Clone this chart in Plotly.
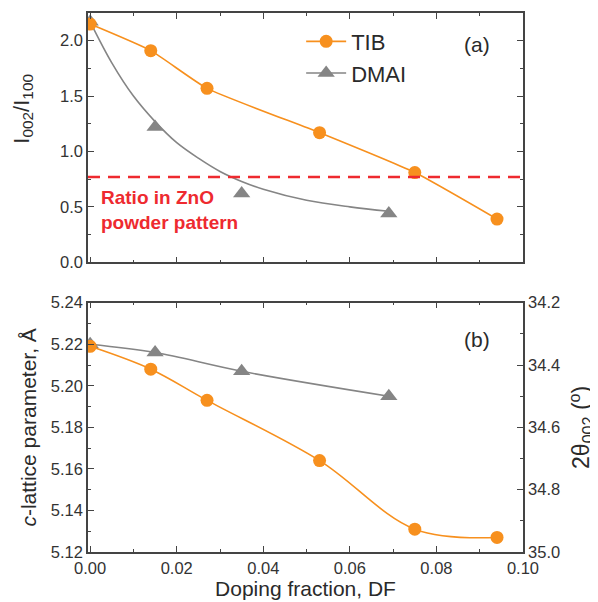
import plotly.graph_objects as go

# ---- data ----
tib_df = [0.0, 0.014, 0.027, 0.053, 0.075, 0.094]
tib_ratio = [2.15, 1.91, 1.57, 1.17, 0.81, 0.39]
tib_c = [5.219, 5.208, 5.193, 5.164, 5.131, 5.127]

dmai_df = [0.0, 0.015, 0.035, 0.069]
dmai_ratio = [2.17, 1.22, 0.62, 0.44]
dmai_c = [5.220, 5.216, 5.207, 5.195]

# fitted DMAI curve in panel (a)
dmai_fit_df = [0.0, 0.005, 0.01, 0.015, 0.02, 0.025, 0.03, 0.035, 0.04, 0.05, 0.06, 0.069]
dmai_fit_ratio = [2.17, 1.80, 1.50, 1.27, 1.08, 0.94, 0.82, 0.73, 0.66, 0.56, 0.50, 0.46]

powder_ratio = 0.77

ORANGE = "#F7901E"
GRAY = "#858585"
RED = "#EE2A2F"
AX = "#444444"
TXT = "#2a2a2a"
FONT = "Liberation Sans, Arial, sans-serif"

fig = go.Figure()

# panel (a)
fig.add_trace(go.Scatter(x=dmai_fit_df, y=dmai_fit_ratio, mode="lines",
                         line=dict(color=GRAY, width=1.6, shape="spline"),
                         showlegend=False, xaxis="x", yaxis="y"))
fig.add_trace(go.Scatter(x=dmai_df, y=dmai_ratio, mode="markers",
                         marker=dict(symbol="triangle-up", size=15, color=GRAY),
                         showlegend=False, xaxis="x", yaxis="y"))
fig.add_trace(go.Scatter(x=tib_df, y=tib_ratio, mode="lines+markers", name="TIB",
                         line=dict(color=ORANGE, width=1.6, shape="spline", smoothing=0.5),
                         marker=dict(symbol="circle", size=13, color=ORANGE),
                         xaxis="x", yaxis="y"))
fig.add_trace(go.Scatter(x=[None], y=[None], mode="lines+markers", name="DMAI",
                         line=dict(color=GRAY, width=1.6),
                         marker=dict(symbol="triangle-up", size=15, color=GRAY),
                         xaxis="x", yaxis="y"))

# panel (b)
fig.add_trace(go.Scatter(x=dmai_df, y=dmai_c, mode="lines+markers",
                         line=dict(color=GRAY, width=1.6, shape="spline"),
                         marker=dict(symbol="triangle-up", size=15, color=GRAY),
                         showlegend=False, xaxis="x2", yaxis="y2"))
fig.add_trace(go.Scatter(x=tib_df, y=tib_c, mode="lines+markers",
                         line=dict(color=ORANGE, width=1.6, shape="spline", smoothing=1.0),
                         marker=dict(symbol="circle", size=13, color=ORANGE),
                         showlegend=False, xaxis="x2", yaxis="y2"))
# invisible trace to activate the right axis
fig.add_trace(go.Scatter(x=[None], y=[None], showlegend=False, xaxis="x2", yaxis="y3"))

minor_common = dict(ticks="inside", ticklen=3, tickcolor=AX, showgrid=False)
axis_common = dict(showline=True, linecolor=AX, linewidth=1.5, ticks="inside",
                   ticklen=6, tickcolor=AX, tickwidth=1.2, showgrid=False, zeroline=False,
                   automargin=False,
                   tickfont=dict(size=16.5, color="#333333", family=FONT))

xrange = [-0.0005, 0.1]

# the page adds an 8px body margin, so the figure is drawn 8px smaller
fig.update_layout(
    width=590, height=594,
    margin=dict(l=80, r=75, t=5, b=50),
    paper_bgcolor="white", plot_bgcolor="white",
    font=dict(family=FONT, color=TXT),
    xaxis=dict(domain=[0, 1], anchor="y", range=xrange, dtick=0.02, tick0=0,
               showticklabels=False, mirror="ticks",
               minor=dict(dtick=0.01, tick0=0, **minor_common), **axis_common),
    yaxis=dict(domain=[0.5375, 1], anchor="x", range=[0, 2.25], dtick=0.5, tick0=0,
               tickformat=".1f", mirror="ticks",
               minor=dict(dtick=0.25, tick0=0, **minor_common),
               **axis_common),
    xaxis2=dict(domain=[0, 1], anchor="y2", range=xrange, dtick=0.02, tick0=0,
                tickformat=".2f", mirror="ticks",
                minor=dict(dtick=0.01, tick0=0, **minor_common),
                title=dict(text="Doping fraction, DF", font=dict(size=21, family=FONT, color=TXT),
                           standoff=0),
                **axis_common),
    yaxis2=dict(domain=[0, 0.4625], anchor="x2", range=[5.12, 5.24], dtick=0.02,
                tick0=5.12, tickformat=".2f",
                minor=dict(dtick=0.01, tick0=5.12, **minor_common),
                title=dict(text="<i>c</i>-lattice parameter, Å",
                           font=dict(size=21, family=FONT, color=TXT), standoff=8),
                **axis_common),
    yaxis3=dict(overlaying="y2", side="right", anchor="x2", range=[35.0, 34.2],
                dtick=0.2, tick0=34.2, tickformat=".1f",
                minor=dict(dtick=0.1, tick0=34.2, **minor_common),
                title=dict(text="2θ<sub>002</sub> (<sup>o</sup>)",
                           font=dict(size=23, family=FONT, color=TXT), standoff=14),
                **axis_common),
    legend=dict(x=0.49, y=0.986, xanchor="left", yanchor="top",
                bgcolor="rgba(0,0,0,0)", font=dict(size=22, family=FONT, color=TXT),
                itemwidth=40, tracegroupgap=0),
    showlegend=True,
)

# top-panel y title (placed above the panel centre, as in the original)
fig.add_annotation(x=-0.150, y=0.615, xref="x domain", yref="y domain",
                   text="I<sub>002</sub>/I<sub>100</sub>", textangle=-90, showarrow=False,
                   xanchor="center", yanchor="middle",
                   font=dict(size=22, family=FONT, color=TXT))

# powder-pattern reference line
fig.add_shape(type="line", xref="x domain", yref="y", x0=0, x1=1,
              y0=powder_ratio, y1=powder_ratio,
              line=dict(color=RED, width=2.6, dash="12px,8px"))

fig.add_annotation(x=0.025, y=0.31, xref="x domain", yref="y domain",
                   text="<b>Ratio in ZnO<br>powder pattern</b>", showarrow=False,
                   xanchor="left", yanchor="top", align="left",
                   font=dict(size=19, color=RED, family=FONT))
fig.add_annotation(x=0.894, y=0.875, xref="x domain", yref="y domain", text="(a)",
                   xanchor="center", yanchor="middle",
                   showarrow=False, font=dict(size=21, family=FONT, color=TXT))
fig.add_annotation(x=0.894, y=0.854, xref="x2 domain", yref="y2 domain", text="(b)",
                   xanchor="center", yanchor="middle",
                   showarrow=False, font=dict(size=21, family=FONT, color=TXT))

fig.write_html("out.html")
